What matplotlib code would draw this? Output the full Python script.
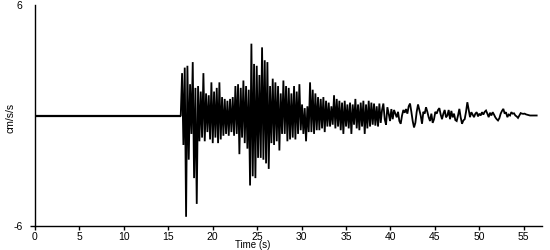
import numpy as np
import matplotlib
matplotlib.use("Agg")
import matplotlib.pyplot as plt

# record: flat until the P arrival, then samples every 0.15 s (cm/s/s)
pre_time = [0.0, 16.4]
pre_acc = [0.0, 0.0]

start_time = 16.4
step = 0.15
acc = [
    0.0, 2.3, -1.6, 2.6, -5.5, 2.7, -2.4, 1.7, -1.0, 2.9,
    -3.4, 1.5, -4.8, 1.6, -1.4, 1.3, -1.2, 2.3, -1.4, 1.2,
    -0.9, 1.1, -1.3, 1.8, -1.5, 1.3, -1.2, 1.5, -1.5, 1.8,
    -1.3, 1.0, -1.1, 0.9, -1.0, 0.8, -1.1, 0.9, -0.9, 1.0,
    -1.1, 1.6, -1.0, 1.7, -2.1, 1.5, -1.2, 1.9, -1.5, 1.6,
    -1.8, 1.4, -3.8, 3.9, -3.3, 2.8, -3.4, 2.7, -2.3, 2.2,
    -2.3, 3.7, -2.4, 3.0, -2.6, 2.9, -2.9, 1.6, -1.5, 2.0,
    -1.6, 1.8, -1.4, 1.6, -1.9, 1.2, -1.0, 1.9, -1.0, 1.6,
    -1.4, 1.5, -1.3, 1.2, -1.2, 1.6, -1.3, 1.3, -1.0, 1.7,
    -0.8, 0.6, -1.0, 0.4, -1.4, 0.5, -0.9, 1.8, -0.9, 1.4,
    -1.0, 1.2, -0.8, 1.0, -0.8, 0.9, -0.7, 1.0, -0.9, 0.8,
    -0.6, 0.7, -0.6, 0.5, -0.5, 1.1, -0.7, 0.9, -0.6, 0.8,
    -0.8, 0.7, -1.0, 0.8, -0.6, 0.6, -0.7, 0.7, -1.0, 0.6,
    -0.5, 0.9, -0.7, 0.6, -0.8, 0.7, -0.6, 0.8, -1.0, 0.6,
    -0.7, 0.8, -0.6, 0.7, -0.5, 0.65, -0.55, 0.5, -0.6, 0.65,
    -0.4, 0.3, 0.65, -0.2, -0.5, 0.45, 0.1, -0.3, 0.35, -0.2,
    0.3, 0.1, -0.1, 0.2, -0.3, -0.45, 0.0, 0.3, 0.15, 0.35,
    0.1, 0.5, 0.65, 0.2, -0.3, -0.65, -0.4, 0.2, 0.6, 0.3,
    0.0, -0.45, 0.2, 0.1, 0.45, 0.2, -0.1, -0.3, 0.1, -0.4,
    -0.2, 0.2, 0.1, 0.3, 0.4, 0.05, -0.2, 0.1, 0.3, -0.1,
    0.0, 0.3, -0.2, 0.25, -0.1, 0.1, -0.25, -0.3, 0.0, 0.36,
    -0.1, -0.45, -0.27, -0.2, 0.2, 0.72, 0.3, -0.09, 0.18, 0.05,
    -0.09, 0.1, 0.18, -0.05, 0.1, 0.0, 0.18, 0.05, 0.2, 0.27,
    0.1, -0.09, 0.15, 0.0, 0.18, 0.05, -0.1, -0.2, -0.27, -0.15,
    0.1, 0.25, 0.36, 0.1, 0.18, -0.09, 0.05, 0.0, 0.18, 0.1,
    0.12, 0.0, -0.05, -0.13, 0.0, 0.13, 0.1, 0.09, 0.1, 0.06,
    0.04, 0.02, 0.0, 0.0, 0.0, 0.0, 0.0, 0.0,
]
time = start_time + step * np.arange(len(acc))

x_ticks = list(range(0, 60, 5))

plt.rcParams['font.family'] = ['Liberation Sans', 'DejaVu Sans']

fig = plt.figure(figsize=(5.5, 2.5), dpi=100)
ax = fig.add_axes([35 / 550, 24 / 250, 507 / 550, 221 / 250])

ax.plot(pre_time, pre_acc, color='black', lw=1.6, solid_capstyle='butt')
ax.plot(time, acc, color='black', lw=1.3, solid_joinstyle='miter')

ax.set_xlim(0, 57.05)
ax.set_ylim(-6, 6)
for side in ['top', 'right']:
    ax.spines[side].set_visible(False)
for side in ['left', 'bottom']:
    ax.spines[side].set_linewidth(1.0)

ax.set_xticks(x_ticks)
ax.set_xticklabels([str(v) for v in x_ticks], fontsize=7.5)
ax.tick_params(axis='x', length=3, width=1, pad=1)
ax.set_yticks([-6, 6])
ax.set_yticklabels(['-6', '6'], fontsize=7.5)
ax.tick_params(axis='y', length=3.6, width=1, pad=5.5)
ax.yaxis.get_major_ticks()[1].tick1line.set_visible(False)

ax.set_xlabel('Time (s)', fontsize=7, labelpad=0)
ax.xaxis.set_label_coords(0.43, -0.065)
ax.set_ylabel('cm/s/s', fontsize=7.5)
ax.yaxis.set_label_coords(-0.038, 0.49)

fig.savefig('out.png', dpi=100)
